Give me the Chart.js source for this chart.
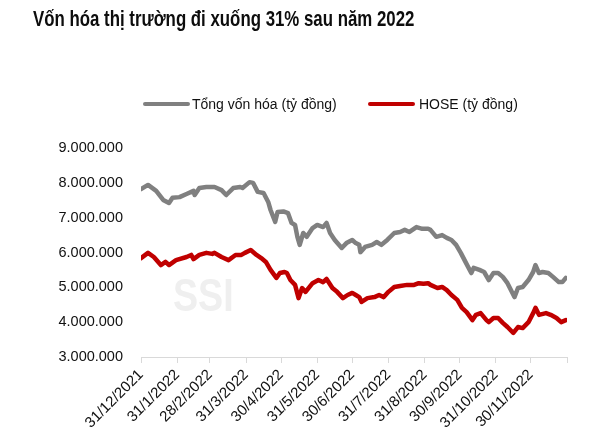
<!DOCTYPE html>
<html>
<head>
<meta charset="utf-8">
<script src="https://cdn.jsdelivr.net/npm/chart.js@4.4.1/dist/chart.umd.min.js"></script>
<style>
  html, body { margin: 0; padding: 0; background: #ffffff; }
  #wrap { position: relative; width: 600px; height: 444px; overflow: hidden; }
  #title { position: absolute; left: 33px; top: 6px; font-family: "Liberation Sans", Arial, sans-serif; font-weight: bold; font-size: 22px; line-height: 26px; color: #0d0d0d; white-space: nowrap; transform: scaleX(0.765); transform-origin: 0 0; }
  #legend { position: absolute; left: 0; top: 94px; width: 600px; height: 20px; font-family: "Liberation Sans", Arial, sans-serif; font-size: 14px; color: #111; }
  .swatch { position: absolute; top: 8px; width: 47px; height: 4px; border-radius: 2px; }
  .lbl { position: absolute; top: 0; line-height: 20px; white-space: nowrap; }
  canvas { position: absolute; left: 0; top: 0; }
</style>
</head>
<body>
<div id="wrap">
  <canvas id="c" width="600" height="444"></canvas>
  <div id="title">Vốn hóa thị trường đi xuống 31% sau năm 2022</div>
  <div id="legend"></div>
</div>
<script>
// ---- DATA (days since 31/12/2021, values in tỷ đồng) ----
const seriesNames = ["Tổng vốn hóa (tỷ đồng)", "HOSE (tỷ đồng)"];

const totalDays = [0, 6, 13, 19, 24, 27, 33, 39, 45, 46, 50, 56, 61, 63, 69, 73, 79, 85, 87, 93, 96, 100, 105, 109, 111, 115, 117, 122, 126, 129, 132, 134, 136, 139, 142, 147, 151, 156, 159, 162, 166, 172, 176, 181, 184, 187, 188, 192, 198, 202, 206, 211, 217, 222, 226, 230, 236, 241, 246, 248, 253, 258, 262, 266, 270, 274, 278, 283, 285, 290, 294, 298, 302, 306, 310, 314, 320, 323, 327, 332, 336, 338, 341, 344, 349, 353, 358, 361, 364];
const totalValues = [7820000, 7940000, 7770000, 7510000, 7420000, 7570000, 7590000, 7680000, 7770000, 7650000, 7850000, 7880000, 7880000, 7880000, 7790000, 7650000, 7850000, 7880000, 7850000, 8020000, 8000000, 7740000, 7710000, 7450000, 7220000, 6880000, 7160000, 7180000, 7130000, 6850000, 6790000, 6450000, 6220000, 6560000, 6450000, 6700000, 6790000, 6730000, 6850000, 6560000, 6360000, 6130000, 6270000, 6360000, 6270000, 6220000, 6010000, 6160000, 6220000, 6300000, 6220000, 6360000, 6560000, 6590000, 6650000, 6590000, 6730000, 6680000, 6680000, 6650000, 6450000, 6500000, 6420000, 6360000, 6220000, 5990000, 5730000, 5410000, 5560000, 5500000, 5440000, 5210000, 5410000, 5410000, 5300000, 5120000, 4720000, 4980000, 5010000, 5210000, 5440000, 5640000, 5410000, 5440000, 5410000, 5300000, 5150000, 5150000, 5270000];

const hoseDays = [0, 6, 11, 17, 21, 24, 30, 39, 43, 45, 50, 56, 61, 63, 69, 75, 81, 86, 89, 94, 99, 103, 107, 111, 116, 119, 123, 125, 128, 132, 135, 138, 141, 147, 152, 156, 159, 164, 168, 173, 177, 181, 184, 187, 189, 194, 200, 204, 208, 212, 217, 222, 228, 234, 238, 242, 246, 248, 254, 258, 262, 266, 271, 275, 279, 284, 287, 291, 296, 298, 302, 306, 310, 314, 319, 323, 327, 332, 336, 338, 341, 347, 351, 356, 360, 364];
const hoseValues = [5840000, 5990000, 5870000, 5640000, 5730000, 5640000, 5780000, 5870000, 5930000, 5810000, 5930000, 5990000, 5960000, 5990000, 5870000, 5780000, 5930000, 5930000, 5990000, 6070000, 5930000, 5840000, 5730000, 5500000, 5270000, 5410000, 5440000, 5410000, 5210000, 5070000, 4690000, 4980000, 4870000, 5120000, 5210000, 5150000, 5240000, 4980000, 4870000, 4690000, 4780000, 4840000, 4780000, 4720000, 4580000, 4690000, 4720000, 4780000, 4720000, 4870000, 5010000, 5040000, 5070000, 5070000, 5120000, 5100000, 5120000, 5070000, 4980000, 5010000, 4920000, 4780000, 4640000, 4410000, 4290000, 4060000, 4210000, 4260000, 4060000, 4000000, 4120000, 4120000, 3980000, 3860000, 3690000, 3860000, 3830000, 4000000, 4260000, 4410000, 4210000, 4260000, 4210000, 4120000, 4000000, 4060000];

const tickDays = [0, 31, 59, 90, 120, 151, 181, 212, 243, 273, 304, 334, 365];
const tickLabels = ["31/12/2021", "31/1/2022", "28/2/2022", "31/3/2022", "30/4/2022", "31/5/2022", "30/6/2022", "31/7/2022", "31/8/2022", "30/9/2022", "31/10/2022", "30/11/2022", ""];

const yMin = 3000000, yMax = 9000000, yStep = 1000000;
// ---- END DATA ----

const colors = ["#808080", "#c00000"];
const FONT = '"Liberation Sans", Arial, sans-serif';

function toXY(days, vals) { return days.map((d, i) => ({ x: d, y: vals[i] })); }
function fmt(v) { return String(Math.round(v)).replace(/\B(?=(\d{3})+(?!\d))/g, "."); }

// HTML legend built from series names/colors
const legendPos = [{ sw: 143, tx: 192 }, { sw: 368, tx: 419 }];
const legendEl = document.getElementById("legend");
seriesNames.forEach((n, i) => {
  const sw = document.createElement("div");
  sw.className = "swatch"; sw.style.left = legendPos[i].sw + "px"; sw.style.background = colors[i];
  const tx = document.createElement("div");
  tx.className = "lbl"; tx.style.left = legendPos[i].tx + "px"; tx.textContent = n;
  legendEl.appendChild(sw); legendEl.appendChild(tx);
});

const watermark = {
  id: "watermark",
  beforeDatasetsDraw(chart) {
    const ctx = chart.ctx;
    ctx.save();
    ctx.translate(173, 311);
    ctx.scale(0.8, 1);
    ctx.font = 'bold 47px ' + FONT;
    ctx.fillStyle = "#efefef";
    ctx.textBaseline = "alphabetic";
    ctx.textAlign = "left";
    ctx.fillText("SSI", 0, 0);
    ctx.restore();
  }
};

new Chart(document.getElementById("c"), {
  type: "line",
  data: {
    datasets: [
      { label: seriesNames[0], data: toXY(totalDays, totalValues), borderColor: colors[0], backgroundColor: colors[0], borderWidth: 4.5, pointRadius: 0, tension: 0, borderJoinStyle: "round", borderCapStyle: "round" },
      { label: seriesNames[1], data: toXY(hoseDays, hoseValues), borderColor: colors[1], backgroundColor: colors[1], borderWidth: 4.5, pointRadius: 0, tension: 0, borderJoinStyle: "round", borderCapStyle: "round" }
    ]
  },
  options: {
    responsive: false,
    animation: false,
    layout: { padding: { top: 148, left: 0, right: 33, bottom: 0 } },
    plugins: { legend: { display: false }, title: { display: false }, tooltip: { enabled: false } },
    scales: {
      x: {
        type: "linear", min: tickDays[0], max: tickDays[tickDays.length - 1],
        afterBuildTicks(scale) { scale.ticks = tickDays.map(v => ({ value: v })); },
        afterFit(scale) { scale.height = 87; },
        ticks: {
          autoSkip: false, minRotation: 45, maxRotation: 45, padding: 3,
          color: "#111", font: { family: FONT, size: 15 },
          callback(v, i) { return tickLabels[i]; }
        },
        grid: { drawOnChartArea: false, color: "#d9d9d9", tickLength: 6, lineWidth: 1 },
        border: { color: "#d9d9d9", width: 1 }
      },
      y: {
        min: yMin, max: yMax,
        afterFit(scale) { scale.width = 141; },
        ticks: { stepSize: yStep, padding: 18, color: "#111", font: { family: FONT, size: 14.5 }, callback(v) { return fmt(v); } },
        grid: { display: false, drawTicks: false },
        border: { display: false }
      }
    }
  },
  plugins: [watermark]
});
</script>
</body>
</html>
